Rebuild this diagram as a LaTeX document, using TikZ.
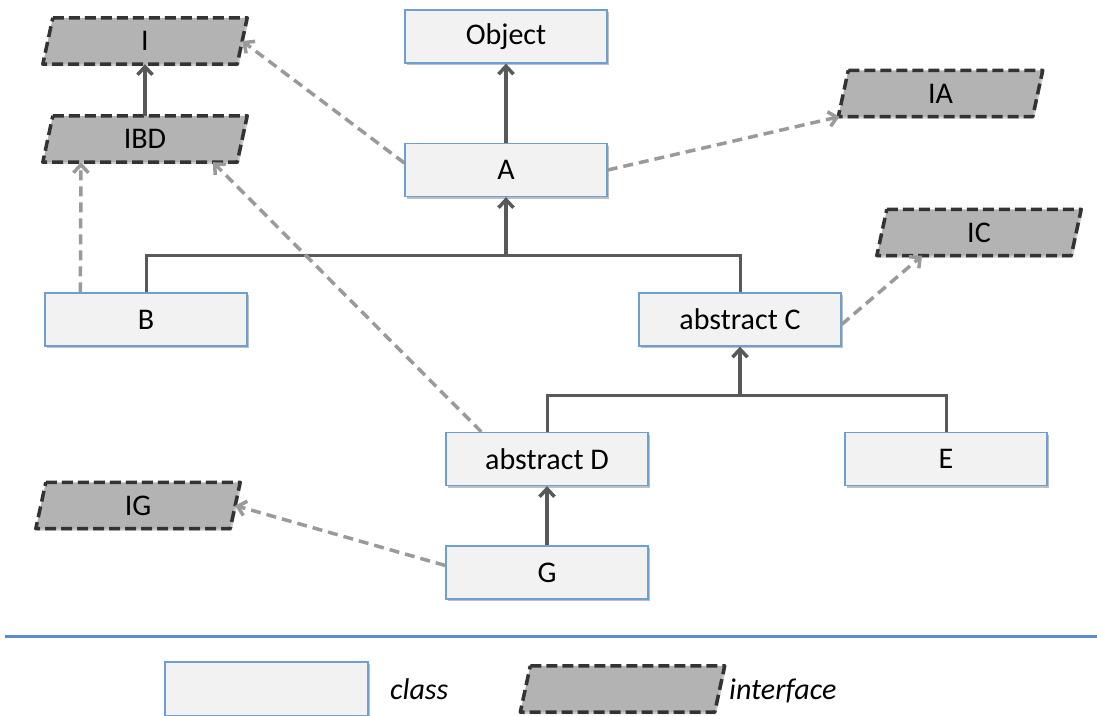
\documentclass[tikz,border=0pt]{standalone}
\usepackage{fontspec}
\setmainfont{Carlito}
\usetikzlibrary{arrows.meta,shadows,calc,backgrounds}
\definecolor{classfill}{HTML}{F2F2F2}
\definecolor{classdraw}{HTML}{6C9FD2}
\definecolor{ifill}{HTML}{B3B3B3}
\definecolor{idraw}{HTML}{333333}
\definecolor{solidc}{HTML}{595959}
\definecolor{dashc}{HTML}{9A9A9A}
\definecolor{sepc}{HTML}{5B8DC9}
\begin{document}
\begin{tikzpicture}[x=1pt,y=-1pt,
  font=\fontsize{30}{36}\selectfont,
  classbox/.style={draw=classdraw, fill=classfill, line width=1.3pt,
    minimum width=202pt, minimum height=53pt, inner sep=0pt,
    drop shadow={shadow xshift=1.5pt, shadow yshift=-2pt, opacity=0.25, fill=black}},
  ifacebox/.style={rectangle, minimum width=194pt, minimum height=46pt, inner sep=0pt},
  ifaceshape/.style={draw=idraw, fill=ifill, line width=3.5pt, line join=round,
    dash pattern=on 11pt off 5pt,
    drop shadow={shadow xshift=1.5pt, shadow yshift=-2pt, opacity=0.2, fill=black}},
  inh/.style={draw=solidc, line width=3.5pt, -{Straight Barb[length=8pt,width=15pt]}},
  tline/.style={draw=solidc, line width=3pt},
  real/.style={draw=dashc, line width=3.5pt, dash pattern=on 10pt off 6pt,
    -{Straight Barb[length=8pt,width=15pt]}},
  legtext/.style={anchor=west, inner sep=0pt, font=\fontsize{30}{36}\selectfont\itshape}
]
\useasboundingbox (0,0) rectangle (1097,715);
% classes
\node[classbox] (Obj) at (506,36.5) {Object};
\node[classbox] (A) at (506,170) {A};
\node[classbox] (B) at (146,319.5) {B};
\node[classbox] (C) at (740,319.5) {abstract C};
\node[classbox] (D) at (547,459) {abstract D};
\node[classbox] (E) at (946,459) {E};
\node[classbox] (G) at (547,572.5) {G};
% interfaces
\node[ifacebox] (I) at (145,41) {I};
\node[ifacebox] (IBD) at (145,139) {IBD};
\node[ifacebox] (IA) at (940.5,93.5) {IA};
\node[ifacebox] (IC) at (979,232.5) {IC};
\node[ifacebox] (IG) at (138,505.5) {IG};
\node[ifacebox] (Li) at (622.5,689) {};
\begin{scope}[on background layer]
\foreach \n in {I,IBD,IA,IC,IG,Li}
  \draw[ifaceshape] ([xshift=5pt]\n.north west) -- ([xshift=5pt]\n.north east)
    -- ([xshift=-5pt]\n.south east) -- ([xshift=-5pt]\n.south west) -- cycle;
\end{scope}
% inheritance
\draw[inh] (A.north) -- (Obj.south);
\draw[inh] (IBD.north) -- (I.south);
\coordinate (jA) at (506,255);
\draw[tline] (B.north) |- (jA) -| (C.north);
\draw[inh] (jA) -- (A.south);
\coordinate (jC) at (740,395);
\draw[tline] (D.north) |- (jC) -| (E.north);
\draw[inh] (jC) -- (C.south);
\draw[inh] (G.north) -- (D.south);
% realization
\draw[real] ([yshift=7pt]A.west) -- (I.east);
\draw[real] (A.east) -- ([xshift=-4pt]IA.south west);
\draw[real] ([yshift=-5pt]C.east) -- ([xshift=-57pt]IC.south);
\draw[real] ([xshift=36pt]D.north west) -- ([xshift=68pt]IBD.south);
\draw[real] ([xshift=36pt]B.north west) -- ([xshift=-64pt]IBD.south);
\draw[real] ([yshift=7pt]G.west) -- (IG.east);
% separator
\coordinate (s1) at (5,636);
\coordinate (s2) at (1097,636);
\draw[sepc, line width=3pt] (s1) -- (s2);
% legend
\node[classbox, minimum width=203pt, minimum height=54pt] (Lc) at (266.5,689) {};
\node[legtext] (Lct) at (390,689) {class};
\node[legtext] (Lit) at (729,691) {interface};
\end{tikzpicture}
\end{document}
